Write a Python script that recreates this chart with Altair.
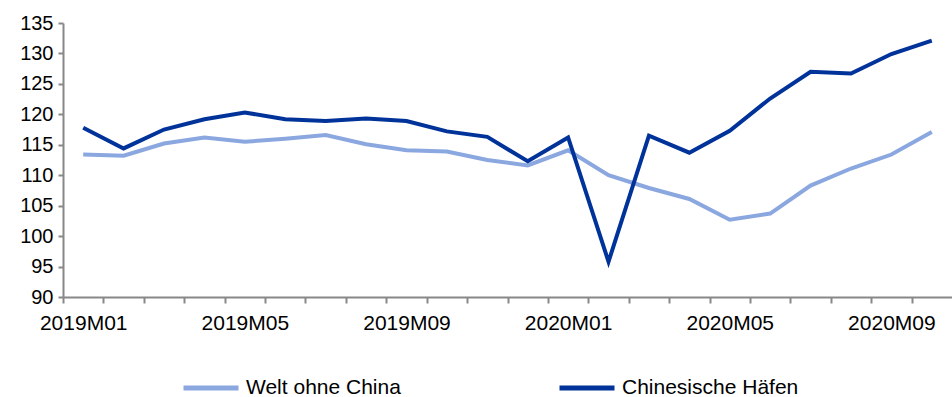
import altair as alt
import pandas as pd

months = ["2019M01", "2019M02", "2019M03", "2019M04", "2019M05", "2019M06",
          "2019M07", "2019M08", "2019M09", "2019M10", "2019M11", "2019M12",
          "2020M01", "2020M02", "2020M03", "2020M04", "2020M05", "2020M06",
          "2020M07", "2020M08", "2020M09", "2020M10"]
welt = [113.4, 113.2, 115.2, 116.2, 115.5, 116.0, 116.6, 115.1, 114.1, 113.9, 112.5, 111.6,
        114.1, 110.0, 107.9, 106.1, 102.7, 103.7, 108.3, 111.1, 113.4, 117.1]
china = [117.8, 114.4, 117.5, 119.2, 120.3, 119.2, 118.9, 119.3, 118.9, 117.2, 116.3, 112.3,
         116.2, 95.8, 116.5, 113.7, 117.3, 122.6, 127.0, 126.7, 129.9, 132.1]
series_names = ["Welt ohne China", "Chinesische Häfen"]
series_colors = ["#8BA7E0", "#003399"]
y_ticks = [90, 95, 100, 105, 110, 115, 120, 125, 130, 135]
labelled_months = ["2019M01", "2019M05", "2019M09", "2020M01", "2020M05", "2020M09"]

rows = []
for name, vals in zip(series_names, [welt, china]):
    for i, (m, v) in enumerate(zip(months, vals)):
        rows.append({"i": i, "month": m, "value": v, "series": name})
df = pd.DataFrame(rows)

W, H = 889, 274
n = len(months)
bw = W / n

arr = "[" + ",".join(f"'{m}'" for m in months) + "]"
lab = "[" + ",".join(f"'{m}'" for m in labelled_months) + "]"
label_expr = f"indexof({lab}, {arr}[datum.value]) >= 0 ? {arr}[datum.value] : ''"

chart = alt.Chart(df).mark_line(strokeWidth=4, strokeJoin="miter").encode(
    x=alt.X("i:Q", scale=alt.Scale(domain=[-0.5, n - 0.5], nice=False, zero=False),
            axis=alt.Axis(values=list(range(n)), labelExpr=label_expr, title=None,
                          tickOffset=-bw / 2, labelOffset=bw / 2, tickSize=6, tickWidth=2,
                          tickColor="#888888",
                          domainColor="#888888", domainWidth=2, labelFontSize=21,
                          labelPadding=9, labelColor="#000000", labelFont="Liberation Sans",
                          grid=False, labelOverlap=False, labelFlush=False)),
    y=alt.Y("value:Q", scale=alt.Scale(domain=[90, 135], nice=False, zero=False),
            axis=alt.Axis(values=y_ticks, title=None, tickSize=5, tickWidth=2,
                          tickColor="#888888", domainColor="#888888", domainWidth=2,
                          labelFontSize=20, labelPadding=5, labelColor="#000000",
                          labelFont="Liberation Sans", grid=False)),
    color=alt.Color("series:N", scale=alt.Scale(domain=series_names, range=series_colors),
                    legend=alt.Legend(title=None, orient="none", legendX=118, legendY=335,
                                      direction="horizontal", columns=2, columnPadding=148,
                                      symbolType="stroke", symbolSize=3025,
                                      symbolStrokeWidth=5, labelFontSize=21, labelLimit=0,
                                      labelFont="Liberation Sans", labelColor="#000000",
                                      labelOffset=5, padding=0)),
    detail="series:N",
).properties(
    width=W, height=H,
    autosize=alt.AutoSizeParams(type="none"),
    padding={"left": 63, "top": 23, "right": 0, "bottom": 100},
).configure(background="white").configure_view(stroke=None, strokeWidth=0)

chart.save("out.html", embed_options={"renderer": "svg", "actions": False})
